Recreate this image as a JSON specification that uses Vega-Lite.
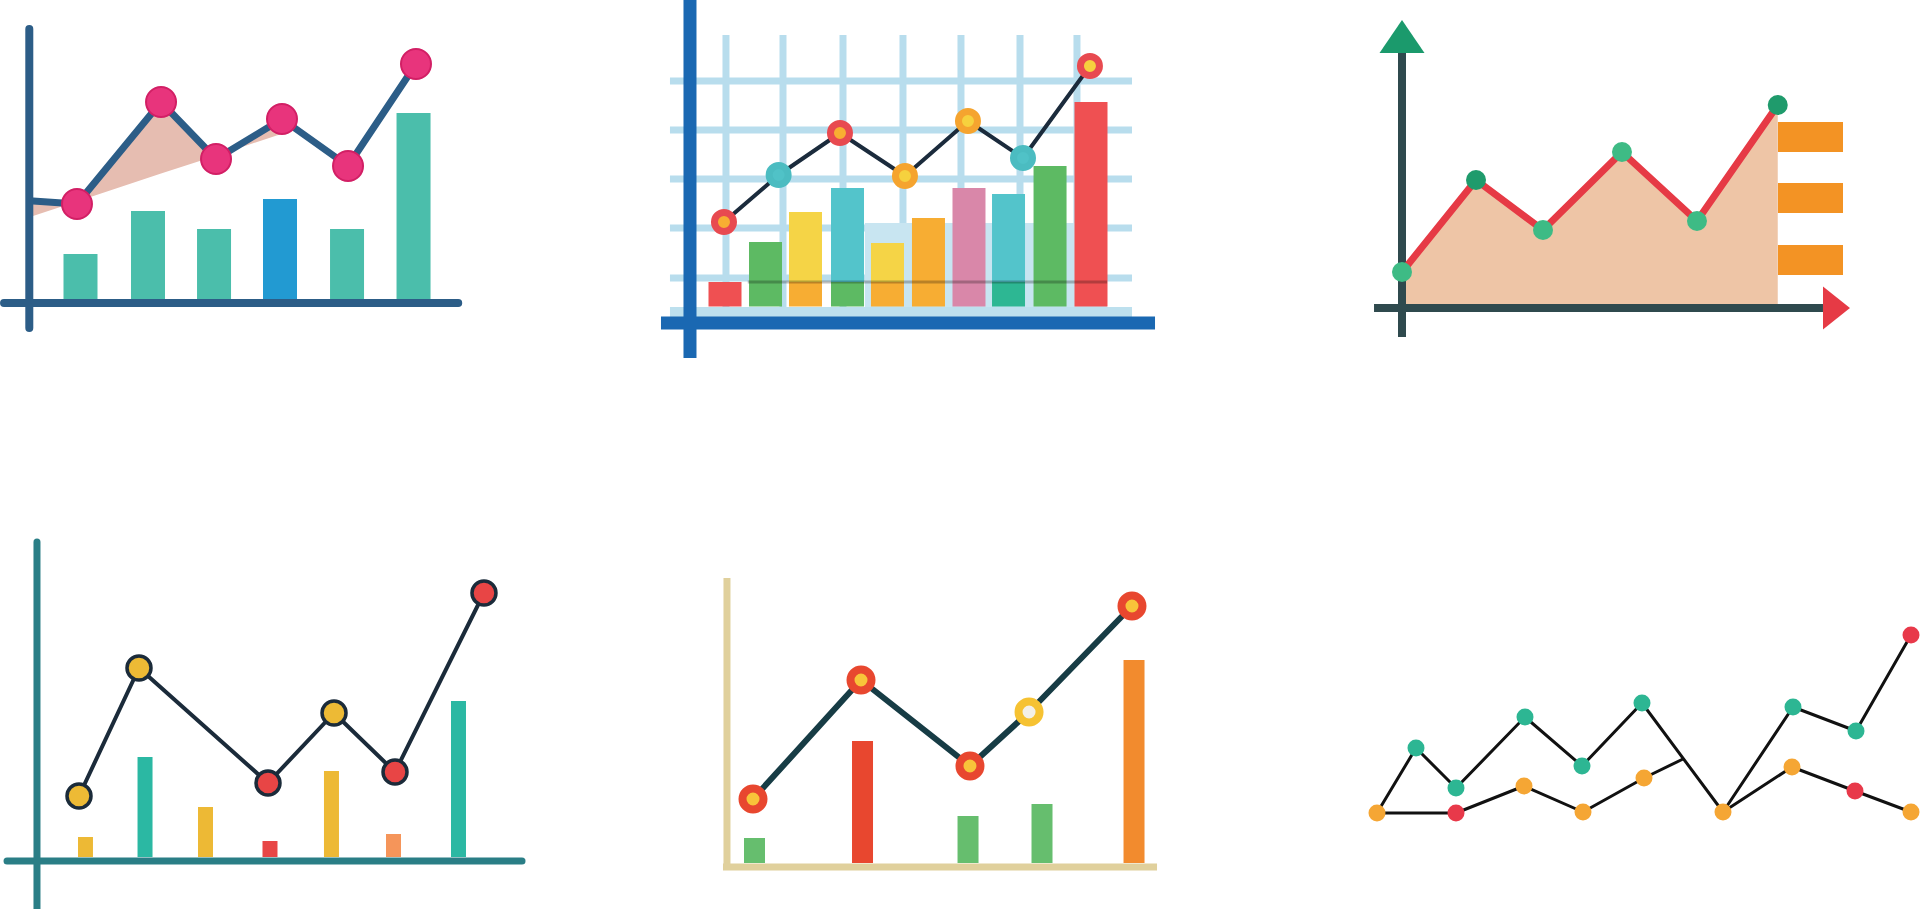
{
  "$schema": "https://vega.github.io/schema/vega-lite/v6.json",
  "padding": 0,
  "background": "white",
  "spacing": 0,
  "columns": 3,
  "bounds": "flush",
  "config": {"view": {"stroke": null}},
  "resolve": {"scale": {"x": "independent", "y": "independent", "color": "independent", "fill": "independent", "stroke": "independent"}},
  "datasets": {
    "p1_axes": [{"t": 0.23, "t2": 0.23, "v": 135, "v2": -14.5}, {"t": -0.15, "t2": 6.68, "v": -2, "v2": -2}],
    "p1_bars": [{"t": 1.0, "v": 22.5, "cat": "teal"}, {"t": 2.015, "v": 44, "cat": "teal"}, {"t": 3.008, "v": 35, "cat": "teal"}, {"t": 4.0, "v": 50, "cat": "blue"}, {"t": 5.008, "v": 35, "cat": "teal"}, {"t": 6.008, "v": 93, "cat": "teal"}],
    "p1_area": [{"t": 0.286, "v": 49, "v2": 41.5}, {"t": 0.947, "v": 47.5, "v2": 48.75}, {"t": 2.211, "v": 98.5, "v2": 62.7}, {"t": 3.038, "v": 70, "v2": 71.65}, {"t": 4.03, "v": 90, "v2": 82.65}],
    "p1_line": [{"t": 0.286, "v": 49}, {"t": 0.947, "v": 47.5}, {"t": 2.211, "v": 98.5}, {"t": 3.038, "v": 70}, {"t": 4.03, "v": 90}, {"t": 5.023, "v": 66.5}, {"t": 6.045, "v": 117.5}],
    "p1_pts": [{"t": 0.947, "v": 47.5}, {"t": 2.211, "v": 98.5}, {"t": 3.038, "v": 70}, {"t": 4.03, "v": 90}, {"t": 5.023, "v": 66.5}, {"t": 6.045, "v": 117.5}],
    "p2_rects": [{"t": 4.44, "t2": 10.39, "v": 41.75, "v2": -0.25, "cat": "pale"}, {"t": -0.352, "t2": 11.008, "v": -0.25, "v2": -5.25, "cat": "band"}],
    "p2_grid": [
      {"t": 1.025, "t2": 1.025, "v": 135.75, "v2": -0.25}, {"t": 2.427, "t2": 2.427, "v": 135.75, "v2": -0.25}, {"t": 3.902, "t2": 3.902, "v": 135.75, "v2": -0.25}, {"t": 5.377, "t2": 5.377, "v": 135.75, "v2": -0.25}, {"t": 6.803, "t2": 6.803, "v": 135.75, "v2": -0.25}, {"t": 8.254, "t2": 8.254, "v": 135.75, "v2": -0.25}, {"t": 9.655, "t2": 9.655, "v": 135.75, "v2": -0.25},
      {"t": -0.352, "t2": 11.008, "v": 112.75, "v2": 112.75}, {"t": -0.352, "t2": 11.008, "v": 88.25, "v2": 88.25}, {"t": -0.352, "t2": 11.008, "v": 63.75, "v2": 63.75}, {"t": -0.352, "t2": 11.008, "v": 39.25, "v2": 39.25}, {"t": -0.352, "t2": 11.008, "v": 14.25, "v2": 14.25}
    ],
    "p2_axes": [{"t": 0.14, "t2": 0.14, "v": 153.25, "v2": -25.75}, {"t": -0.573, "t2": 11.574, "v": -8.25, "v2": -8.25}],
    "p2_bars": [
      {"t": 1.001, "v": 12.25, "v2": 0, "cat": "red"},
      {"t": 1.997, "v": 32.25, "v2": 0, "cat": "green"},
      {"t": 2.98, "v": 12.25, "v2": 0, "cat": "orange"}, {"t": 2.98, "v": 47.25, "v2": 12.25, "cat": "yellow"},
      {"t": 4.013, "v": 12.25, "v2": 0, "cat": "green"}, {"t": 4.013, "v": 59.25, "v2": 12.25, "cat": "teal"},
      {"t": 4.996, "v": 12.25, "v2": 0, "cat": "orange"}, {"t": 4.996, "v": 31.75, "v2": 12.25, "cat": "yellow"},
      {"t": 6.004, "v": 44.25, "v2": 0, "cat": "orange"},
      {"t": 7.0, "v": 59.25, "v2": 0, "cat": "pink"},
      {"t": 7.972, "v": 12.25, "v2": 0, "cat": "jade"}, {"t": 7.972, "v": 56.25, "v2": 12.25, "cat": "teal"},
      {"t": 8.993, "v": 70.25, "v2": 0, "cat": "green"},
      {"t": 10.0, "v": 102.25, "v2": 0, "cat": "red"}
    ],
    "p2_split": [{"t": 1.561, "t2": 10.397, "v": 12.25, "v2": 12.25}],
    "p2_pts": [{"t": 0.976, "v": 42.25, "ring": "red", "inner": "orange"}, {"t": 2.32, "v": 65.75, "ring": "teal", "inner": "teal"}, {"t": 3.828, "v": 86.75, "ring": "red", "inner": "orange"}, {"t": 5.426, "v": 65.25, "ring": "orange", "inner": "yellow"}, {"t": 6.975, "v": 92.75, "ring": "orange", "inner": "yellow"}, {"t": 8.328, "v": 74.25, "ring": "teal", "inner": "teal"}, {"t": 9.974, "v": 120.25, "ring": "red", "inner": "yellow"}],
    "p3_pts": [{"t": 0, "v": 16, "cat": "light"}, {"t": 0.987, "v": 62, "cat": "dark"}, {"t": 1.88, "v": 37, "cat": "light"}, {"t": 2.933, "v": 76, "cat": "light"}, {"t": 3.933, "v": 41.5, "cat": "light"}, {"t": 5.01, "v": 99.5, "cat": "dark"}],
    "p3_bars": [{"t": 5.013, "t2": 5.88, "v": 83.5, "v2": 83.5}, {"t": 5.013, "t2": 5.88, "v": 53, "v2": 53}, {"t": 5.013, "t2": 5.88, "v": 22, "v2": 22}],
    "p3_axes": [{"t": 0, "t2": 0, "v": 125.5, "v2": -16.5}, {"t": -0.373, "t2": 5.613, "v": -2, "v2": -2}],
    "p3_arrows": [{"t": 0, "v": 133.75, "cat": "up"}, {"t": 5.793, "v": -2, "cat": "right"}],
    "p4_bars": [{"t": 1.0, "v": 10, "cat": "yellow"}, {"t": 1.958, "v": 50, "cat": "teal"}, {"t": 2.931, "v": 25, "cat": "yellow"}, {"t": 3.968, "v": 8, "cat": "red"}, {"t": 4.957, "v": 43, "cat": "yellow"}, {"t": 5.955, "v": 11.5, "cat": "orange"}, {"t": 7.0, "v": 78, "cat": "teal"}],
    "p4_pts": [{"t": 0.896, "v": 30.5, "cat": "yellow"}, {"t": 1.861, "v": 94.5, "cat": "yellow"}, {"t": 3.936, "v": 37, "cat": "red"}, {"t": 4.998, "v": 72, "cat": "yellow"}, {"t": 5.979, "v": 42.5, "cat": "red"}, {"t": 7.41, "v": 132, "cat": "red"}],
    "p4_axes": [{"t": 0.22, "t2": 0.22, "v": 157.5, "v2": -27}, {"t": -0.262, "t2": 8.022, "v": -2, "v2": -2}],
    "p5_bars": [{"t": 1.014, "v": 12.5, "cat": "green"}, {"t": 2.014, "v": 61, "cat": "red"}, {"t": 2.991, "v": 23.5, "cat": "green"}, {"t": 3.676, "v": 29.5, "cat": "green"}, {"t": 4.528, "v": 101.5, "cat": "orange"}],
    "p5_pts": [{"t": 1.0, "v": 32, "ring": "red", "inner": "yellow"}, {"t": 2.0, "v": 91.5, "ring": "red", "inner": "yellow"}, {"t": 3.009, "v": 48.5, "ring": "red", "inner": "yellow"}, {"t": 3.556, "v": 75.5, "ring": "gold", "inner": "cream"}, {"t": 4.509, "v": 128.5, "ring": "red", "inner": "yellow"}],
    "p5_axes": [{"t": 0.759, "t2": 0.759, "v": 142.5, "v2": -3.5}, {"t": 0.722, "t2": 4.741, "v": -2, "v2": -2}],
    "p6_lines": [
      {"t": 0, "v": 18.5, "seg": "upper"}, {"t": 3.9, "v": 51, "seg": "upper"}, {"t": 7.9, "v": 31, "seg": "upper"}, {"t": 14.8, "v": 66.5, "seg": "upper"}, {"t": 20.5, "v": 42, "seg": "upper"}, {"t": 26.5, "v": 73.5, "seg": "upper"}, {"t": 34.6, "v": 19, "seg": "upper"}, {"t": 41.6, "v": 71.5, "seg": "upper"}, {"t": 47.9, "v": 59.5, "seg": "upper"}, {"t": 53.4, "v": 107.5, "seg": "upper"},
      {"t": 0, "v": 18.5, "seg": "lowerA"}, {"t": 7.9, "v": 18.5, "seg": "lowerA"}, {"t": 14.7, "v": 32, "seg": "lowerA"}, {"t": 20.6, "v": 19, "seg": "lowerA"}, {"t": 26.7, "v": 36, "seg": "lowerA"}, {"t": 30.6, "v": 45.5, "seg": "lowerA"},
      {"t": 34.6, "v": 19, "seg": "lowerB"}, {"t": 41.5, "v": 41.5, "seg": "lowerB"}, {"t": 47.8, "v": 29.5, "seg": "lowerB"}, {"t": 53.4, "v": 19, "seg": "lowerB"}
    ],
    "p6_pts": [
      {"t": 0, "v": 18.5, "cat": "orange"}, {"t": 3.9, "v": 51, "cat": "teal"}, {"t": 7.9, "v": 31, "cat": "teal"}, {"t": 14.8, "v": 66.5, "cat": "teal"}, {"t": 20.5, "v": 42, "cat": "teal"}, {"t": 26.5, "v": 73.5, "cat": "teal"}, {"t": 34.6, "v": 19, "cat": "orange"}, {"t": 41.6, "v": 71.5, "cat": "teal"}, {"t": 47.9, "v": 59.5, "cat": "teal"}, {"t": 53.4, "v": 107.5, "cat": "red"},
      {"t": 7.9, "v": 18.5, "cat": "red"}, {"t": 14.7, "v": 32, "cat": "orange"}, {"t": 20.6, "v": 19, "cat": "orange"}, {"t": 26.7, "v": 36, "cat": "orange"}, {"t": 41.5, "v": 41.5, "cat": "orange"}, {"t": 47.8, "v": 29.5, "cat": "red"}, {"t": 53.4, "v": 19, "cat": "orange"}
    ]
  },
  "concat": [
    {
      "width": 640, "height": 455,
      "encoding": {
        "x": {"field": "t", "type": "quantitative", "scale": {"domain": [-0.2105, 9.4135], "nice": false, "zero": false, "padding": 0}, "axis": null},
        "y": {"field": "v", "type": "quantitative", "scale": {"domain": [-78, 149.5], "nice": false, "zero": false, "padding": 0}, "axis": null}
      },
      "layer": [
        {"data": {"name": "p1_area"}, "mark": {"type": "area", "color": "#E6BDB1", "opacity": 1}, "encoding": {"y2": {"field": "v2"}}},
        {"data": {"name": "p1_bars"}, "mark": {"type": "bar", "width": 34, "opacity": 1}, "encoding": {"y2": {"datum": 0}, "color": {"field": "cat", "type": "nominal", "scale": {"domain": ["teal", "blue"], "range": ["#4BBEAB", "#229AD2"]}, "legend": null}}},
        {"data": {"name": "p1_axes"}, "mark": {"type": "rule", "color": "#2C5D87", "strokeWidth": 8, "strokeCap": "round", "clip": true}, "encoding": {"x2": {"field": "t2"}, "y2": {"field": "v2"}}},
        {"data": {"name": "p1_line"}, "mark": {"type": "line", "color": "#2C5D87", "strokeWidth": 7, "strokeJoin": "round", "strokeCap": "round"}, "encoding": {}},
        {"data": {"name": "p1_pts"}, "mark": {"type": "point", "shape": "circle", "filled": true, "opacity": 1, "size": 900, "fill": "#E8347C", "stroke": "#D21F65", "strokeWidth": 2}, "encoding": {}}
      ]
    },
    {
      "width": 640, "height": 455,
      "encoding": {
        "x": {"field": "t", "type": "quantitative", "scale": {"domain": [-1.089, 14.647], "nice": false, "zero": false, "padding": 0}, "axis": null},
        "y": {"field": "v", "type": "quantitative", "scale": {"domain": [-74.25, 153.25], "nice": false, "zero": false, "padding": 0}, "axis": null}
      },
      "layer": [
        {"data": {"name": "p2_grid"}, "mark": {"type": "rule", "color": "#B8DDED", "strokeWidth": 7, "strokeCap": "butt"}, "encoding": {"x2": {"field": "t2"}, "y2": {"field": "v2"}}},
        {"data": {"name": "p2_rects"}, "mark": {"type": "rect", "opacity": 1}, "encoding": {"x2": {"field": "t2"}, "y2": {"field": "v2"}, "color": {"field": "cat", "type": "nominal", "scale": {"domain": ["red", "green", "orange", "yellow", "teal", "pink", "jade", "pale", "band"], "range": ["#EF5052", "#5DBA63", "#F7AD33", "#F5D446", "#53C4CB", "#D987A9", "#2DB793", "#C8E5F1", "#BDE0EE"]}, "legend": null}}},
        {"data": {"name": "p2_bars"}, "mark": {"type": "bar", "width": 33, "opacity": 1}, "encoding": {"y2": {"field": "v2"}, "color": {"field": "cat", "type": "nominal", "scale": {"domain": ["red", "green", "orange", "yellow", "teal", "pink", "jade", "pale", "band"], "range": ["#EF5052", "#5DBA63", "#F7AD33", "#F5D446", "#53C4CB", "#D987A9", "#2DB793", "#C8E5F1", "#BDE0EE"]}, "legend": null}}},
        {"data": {"name": "p2_split"}, "mark": {"type": "rule", "color": "#000000", "opacity": 0.25, "strokeWidth": 3}, "encoding": {"x2": {"field": "t2"}, "y2": {"field": "v2"}}},
        {"data": {"name": "p2_axes"}, "mark": {"type": "rule", "color": "#1A68B2", "strokeWidth": 13, "strokeCap": "butt", "clip": true}, "encoding": {"x2": {"field": "t2"}, "y2": {"field": "v2"}}},
        {"data": {"name": "p2_pts"}, "mark": {"type": "line", "color": "#1B2B3C", "strokeWidth": 4, "strokeJoin": "round"}, "encoding": {}},
        {"data": {"name": "p2_pts"}, "mark": {"type": "point", "shape": "circle", "filled": true, "opacity": 1, "size": 361, "strokeWidth": 7}, "encoding": {
          "fill": {"field": "inner", "type": "nominal", "scale": {"domain": ["red", "orange", "yellow", "teal"], "range": ["#E84A50", "#F8AE32", "#F6D13E", "#50C2C7"]}, "legend": null},
          "stroke": {"field": "ring", "type": "nominal", "scale": {"domain": ["red", "orange", "yellow", "teal"], "range": ["#E84A50", "#F5A42F", "#F6D13E", "#4BBCC1"]}, "legend": null}
        }}
      ]
    },
    {
      "width": 640, "height": 455,
      "encoding": {
        "x": {"field": "t", "type": "quantitative", "scale": {"domain": [-1.6267, 6.9067], "nice": false, "zero": false, "padding": 0}, "axis": null},
        "y": {"field": "v", "type": "quantitative", "scale": {"domain": [-75.5, 152], "nice": false, "zero": false, "padding": 0}, "axis": null}
      },
      "layer": [
        {"data": {"name": "p3_pts"}, "mark": {"type": "area", "color": "#EEC5A6", "opacity": 1}, "encoding": {"y2": {"datum": 0}}},
        {"data": {"name": "p3_bars"}, "mark": {"type": "rule", "color": "#F39324", "strokeWidth": 30, "strokeCap": "butt"}, "encoding": {"x2": {"field": "t2"}, "y2": {"field": "v2"}}},
        {"data": {"name": "p3_axes"}, "mark": {"type": "rule", "color": "#2F4A4E", "strokeWidth": 8, "strokeCap": "butt"}, "encoding": {"x2": {"field": "t2"}, "y2": {"field": "v2"}}},
        {"data": {"name": "p3_arrows"}, "transform": [{"filter": "datum.cat == 'up'"}], "mark": {"type": "point", "shape": "M0,-0.733L1,0.733L-1,0.733Z", "filled": true, "opacity": 1, "size": 2025, "color": "#1B9A6C", "strokeWidth": 0}, "encoding": {}},
        {"data": {"name": "p3_arrows"}, "transform": [{"filter": "datum.cat == 'right'"}], "mark": {"type": "point", "shape": "M-0.628,-1L0.628,0L-0.628,1Z", "filled": true, "opacity": 1, "size": 1849, "color": "#E63A45", "strokeWidth": 0}, "encoding": {}},
        {"data": {"name": "p3_pts"}, "mark": {"type": "line", "color": "#E63A45", "strokeWidth": 7, "strokeJoin": "round"}, "encoding": {}},
        {"data": {"name": "p3_pts"}, "mark": {"type": "point", "shape": "circle", "filled": true, "opacity": 1, "size": 400, "strokeWidth": 0}, "encoding": {
          "fill": {"field": "cat", "type": "nominal", "scale": {"domain": ["light", "dark"], "range": ["#3EBB85", "#1F9B6C"]}, "legend": null}
        }}
      ]
    },
    {
      "width": 640, "height": 454,
      "encoding": {
        "x": {"field": "t", "type": "quantitative", "scale": {"domain": [-0.3748, 9.9196], "nice": false, "zero": false, "padding": 0}, "axis": null},
        "y": {"field": "v", "type": "quantitative", "scale": {"domain": [-26, 201], "nice": false, "zero": false, "padding": 0}, "axis": null}
      },
      "layer": [
        {"data": {"name": "p4_bars"}, "mark": {"type": "bar", "width": 15, "opacity": 1}, "encoding": {"y2": {"datum": 0}, "color": {"field": "cat", "type": "nominal", "scale": {"domain": ["yellow", "teal", "red", "orange"], "range": ["#EDB935", "#2BB8A3", "#E84646", "#F5955A"]}, "legend": null}}},
        {"data": {"name": "p4_axes"}, "mark": {"type": "rule", "color": "#2A7E86", "strokeWidth": 7, "strokeCap": "round", "clip": true}, "encoding": {"x2": {"field": "t2"}, "y2": {"field": "v2"}}},
        {"data": {"name": "p4_pts"}, "mark": {"type": "line", "color": "#1B2B3A", "strokeWidth": 4, "strokeJoin": "round"}, "encoding": {}},
        {"data": {"name": "p4_pts"}, "mark": {"type": "point", "shape": "circle", "filled": true, "opacity": 1, "size": 576, "stroke": "#1B2B3A", "strokeWidth": 3.5}, "encoding": {
          "fill": {"field": "cat", "type": "nominal", "scale": {"domain": ["yellow", "red"], "range": ["#EDBA35", "#E84545"]}, "legend": null}
        }}
      ]
    },
    {
      "width": 640, "height": 454,
      "encoding": {
        "x": {"field": "t", "type": "quantitative", "scale": {"domain": [-0.0463, 5.8796], "nice": false, "zero": false, "padding": 0}, "axis": null},
        "y": {"field": "v", "type": "quantitative", "scale": {"domain": [-23, 204], "nice": false, "zero": false, "padding": 0}, "axis": null}
      },
      "layer": [
        {"data": {"name": "p5_bars"}, "mark": {"type": "bar", "width": 21, "opacity": 1}, "encoding": {"y2": {"datum": 0}, "color": {"field": "cat", "type": "nominal", "scale": {"domain": ["green", "red", "orange"], "range": ["#66BE6E", "#E8472F", "#F28B2E"]}, "legend": null}}},
        {"data": {"name": "p5_axes"}, "mark": {"type": "rule", "color": "#E0D09C", "strokeWidth": 7, "strokeCap": "butt"}, "encoding": {"x2": {"field": "t2"}, "y2": {"field": "v2"}}},
        {"data": {"name": "p5_pts"}, "mark": {"type": "line", "color": "#173C45", "strokeWidth": 6, "strokeJoin": "round"}, "encoding": {}},
        {"data": {"name": "p5_pts"}, "mark": {"type": "point", "shape": "circle", "filled": true, "opacity": 1, "size": 441, "strokeWidth": 8}, "encoding": {
          "fill": {"field": "inner", "type": "nominal", "scale": {"domain": ["yellow", "cream"], "range": ["#F8C43A", "#F3F0E8"]}, "legend": null},
          "stroke": {"field": "ring", "type": "nominal", "scale": {"domain": ["red", "gold"], "range": ["#E8472F", "#F6C232"]}, "legend": null}
        }}
      ]
    },
    {
      "width": 640, "height": 454,
      "encoding": {
        "x": {"field": "t", "type": "quantitative", "scale": {"domain": [-9.7, 54.3], "nice": false, "zero": false, "padding": 0}, "axis": null},
        "y": {"field": "v", "type": "quantitative", "scale": {"domain": [-29.5, 197.5], "nice": false, "zero": false, "padding": 0}, "axis": null}
      },
      "layer": [
        {"data": {"name": "p6_lines"}, "mark": {"type": "line", "color": "#111111", "strokeWidth": 3, "strokeJoin": "round"}, "encoding": {"detail": {"field": "seg", "type": "nominal"}}},
        {"data": {"name": "p6_pts"}, "mark": {"type": "point", "shape": "circle", "filled": true, "opacity": 1, "size": 289, "strokeWidth": 0, "clip": true}, "encoding": {
          "fill": {"field": "cat", "type": "nominal", "scale": {"domain": ["teal", "orange", "red"], "range": ["#2DB693", "#F5A634", "#E8394A"]}, "legend": null}
        }}
      ]
    }
  ]
}
